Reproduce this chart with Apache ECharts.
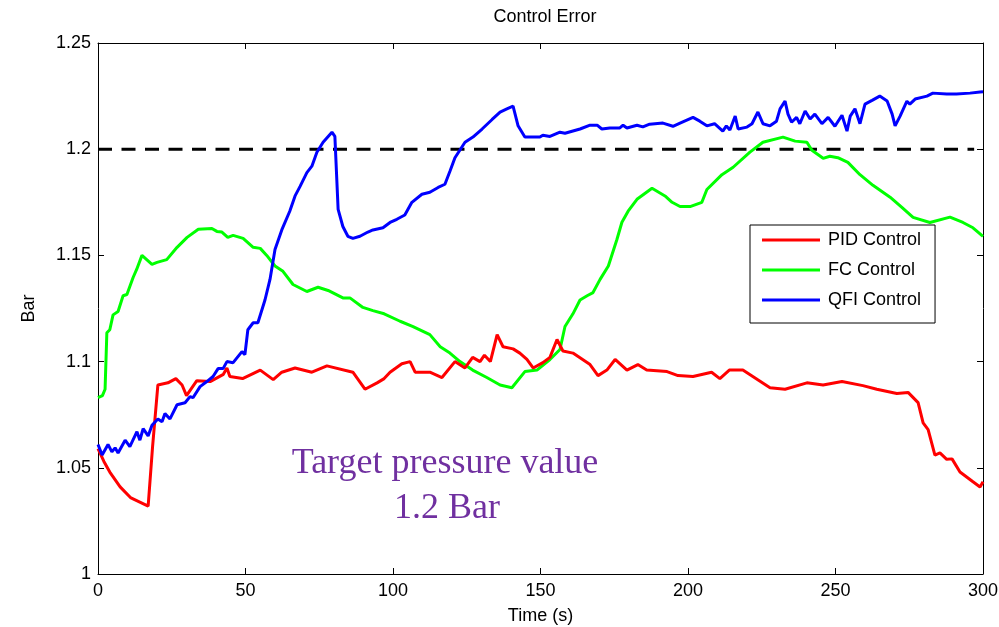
<!DOCTYPE html>
<html>
<head>
<meta charset="utf-8">
<script src="https://cdn.jsdelivr.net/npm/echarts@6/dist/echarts.min.js"></script>
<style>html,body{margin:0;padding:0;background:#fff}#c{width:999px;height:627px}</style>
</head>
<body>
<div id="c"></div>
<script>
// ---- data (time in s, value in Bar) ----
var xTicks = [0, 50, 100, 150, 200, 250, 300];
var yTicks = [1, 1.05, 1.1, 1.15, 1.2, 1.25];
var targetValue = 1.2;
var targetSpan = [0, 297];
var seriesNames = ['PID Control', 'FC Control', 'QFI Control'];

var pidData = [[0,1.059],[2,1.053],[4,1.048],[7.5,1.041],[11,1.036],[14,1.034],[17,1.032],[18.5,1.06],[20.3,1.089],[23.7,1.09],[26.4,1.092],[28.5,1.089],[30,1.084],[33.5,1.091],[38,1.0906],[42.5,1.094],[43.7,1.097],[44.7,1.093],[49,1.092],[55,1.096],[59.4,1.0915],[62.3,1.095],[66.8,1.097],[72.5,1.095],[77.6,1.098],[86.4,1.095],[90.5,1.087],[94.6,1.09],[97,1.092],[99,1.095],[103,1.099],[105.8,1.1],[107.5,1.095],[112.5,1.095],[116.6,1.0925],[121,1.1],[124.4,1.097],[127,1.102],[129.5,1.1],[131,1.103],[133,1.1],[135.3,1.1127],[137.3,1.107],[140.7,1.106],[143,1.104],[145.4,1.101],[147.5,1.097],[150.8,1.0995],[153.2,1.102],[155.6,1.1104],[157.6,1.105],[161,1.104],[166.8,1.0986],[169.5,1.0934],[172.5,1.096],[175.3,1.101],[179.3,1.096],[183,1.0986],[186,1.096],[192.9,1.0953],[196.6,1.0934],[201.7,1.093],[208,1.095],[210.8,1.092],[214,1.096],[218.6,1.096],[227.8,1.0877],[232.9,1.087],[240.3,1.09],[245.8,1.089],[252.2,1.0906],[259.3,1.0887],[264,1.087],[270.8,1.085],[274.6,1.0855],[278,1.0807],[279.7,1.0712],[281.4,1.068],[283.7,1.056],[285.4,1.057],[287.7,1.054],[289.5,1.0542],[292.2,1.048],[296.6,1.0434],[299,1.041],[300,1.0434]];

var fcData = [[0,1.083],[1.5,1.084],[2.4,1.087],[3,1.1136],[4,1.115],[5.1,1.122],[6.8,1.1236],[8.5,1.131],[9.8,1.1316],[11.9,1.1396],[13.1,1.1434],[14.9,1.15],[18.3,1.1458],[20,1.1467],[23.3,1.148],[26.8,1.1538],[30.2,1.1585],[34,1.1623],[38.6,1.1627],[40.3,1.1613],[42,1.161],[44,1.1585],[45.8,1.1594],[49.2,1.158],[52.6,1.1538],[55,1.1533],[57.2,1.15],[60,1.145],[62.7,1.1425],[66.1,1.1363],[70.8,1.133],[74.6,1.135],[78,1.1335],[83,1.13],[85.4,1.13],[89.8,1.1255],[93.2,1.124],[97,1.1225],[102.4,1.119],[106.8,1.1165],[112.5,1.1127],[116,1.107],[119.3,1.104],[122.7,1.1],[127,1.096],[131.8,1.0925],[136.3,1.089],[140.3,1.0877],[144.7,1.0953],[148.8,1.096],[153.2,1.101],[156.6,1.1057],[158.3,1.1165],[161,1.1225],[163.4,1.129],[165.8,1.131],[167.8,1.1325],[170.2,1.1387],[173,1.145],[175.9,1.1575],[177.6,1.1656],[179.7,1.1708],[182.7,1.1764],[187.8,1.1816],[192.2,1.178],[194.6,1.175],[197.3,1.173],[200.7,1.173],[204.7,1.175],[206.4,1.181],[211.5,1.188],[215.3,1.1915],[221,1.1986],[225.4,1.2033],[232.2,1.2057],[236.3,1.2038],[240.3,1.2033],[242,1.1995],[245.8,1.1957],[248.1,1.1967],[250.8,1.196],[254.2,1.1938],[258.3,1.188],[262.7,1.183],[268.5,1.1774],[272.5,1.1726],[276.3,1.1679],[282,1.1655],[288.8,1.168],[293.2,1.1655],[296.6,1.163],[300,1.159]];

var qfiData = [[0,1.061],[1.4,1.056],[3.4,1.061],[4.7,1.0575],[5.8,1.0594],[6.8,1.057],[9.2,1.063],[10.8,1.06],[13.2,1.067],[14.2,1.063],[15.3,1.0684],[17,1.065],[18.3,1.07],[20.3,1.073],[21.7,1.0717],[22.7,1.0755],[24.4,1.073],[26.8,1.0797],[29.5,1.0806],[31.2,1.0835],[32.2,1.083],[34.6,1.0882],[36.9,1.0906],[39,1.093],[40.7,1.0967],[42.4,1.0967],[43.7,1.1],[45.8,1.0995],[48.8,1.1047],[49.8,1.1033],[50.8,1.115],[52.6,1.1183],[54.2,1.1183],[55.6,1.1245],[56.6,1.129],[58.3,1.1387],[60,1.1528],[62.3,1.162],[65,1.1708],[66.8,1.178],[68.5,1.1825],[70.8,1.189],[72.5,1.192],[74.2,1.1986],[76.3,1.2033],[79.3,1.208],[80.3,1.206],[81.4,1.1717],[83,1.1636],[84.7,1.159],[86.4,1.158],[88.8,1.159],[91.5,1.161],[93.2,1.162],[96.6,1.163],[99,1.1655],[101.3,1.167],[104,1.169],[106.4,1.175],[109.8,1.1788],[112.5,1.1797],[115.3,1.182],[117.6,1.1835],[119.3,1.1896],[121,1.196],[124.4,1.2033],[127.1,1.2057],[130.2,1.2095],[133.6,1.214],[136.3,1.2175],[138.6,1.219],[140.7,1.2203],[142.4,1.211],[144.7,1.2057],[149.8,1.2057],[150.8,1.2066],[153.2,1.206],[156.6,1.208],[158.3,1.2075],[163.4,1.2095],[166.8,1.2113],[169.2,1.2113],[170.8,1.2095],[173.5,1.21],[176.9,1.21],[178,1.2113],[179.3,1.21],[182.7,1.2113],[184.7,1.2105],[187,1.2118],[191.5,1.2123],[194.9,1.2108],[197.3,1.2123],[201.7,1.215],[204,1.2132],[206.4,1.211],[209,1.212],[211.8,1.2085],[213,1.211],[214.2,1.209],[216,1.2156],[217,1.2095],[220,1.2104],[221.7,1.212],[223.7,1.2175],[225.4,1.212],[227.8,1.211],[230,1.2132],[231.2,1.219],[232.9,1.2226],[233.9,1.2165],[235.1,1.2127],[236.8,1.215],[237.9,1.212],[239.7,1.218],[241.4,1.2142],[243,1.2165],[245.4,1.212],[247.5,1.215],[249.8,1.2108],[252.2,1.216],[253.9,1.2085],[255,1.2156],[256.6,1.219],[258.3,1.212],[260,1.2212],[262.4,1.223],[265,1.225],[267.5,1.2227],[269.2,1.2165],[270.2,1.211],[271.9,1.2156],[274.2,1.2226],[275.2,1.2212],[277,1.2236],[281,1.225],[283,1.2264],[287.7,1.226],[291,1.226],[295.6,1.2264],[299,1.2269],[300,1.227]];

var targetData = [[targetSpan[0], targetValue], [targetSpan[1], targetValue]];

// ---- chart ----
var FONT = '"Liberation Sans", Arial, Helvetica, sans-serif';
var SERIF = '36px "Liberation Serif", "Times New Roman", serif';
var chart = echarts.init(document.getElementById('c'), null, {renderer: 'canvas'});

var xMin = xTicks[0], xMax = xTicks[xTicks.length - 1], xInt = xTicks[1] - xTicks[0];
var yMin = yTicks[0], yMax = yTicks[yTicks.length - 1], yInt = 0.05;

function baseAxis(extra) {
  var a = {
    type: 'value',
    axisLine: {show: true, onZero: false, lineStyle: {color: '#000', width: 1}},
    axisTick: {show: true, inside: true, length: 6, lineStyle: {color: '#000', width: 1}},
    splitLine: {show: false},
    axisLabel: {show: false}
  };
  for (var k in extra) a[k] = extra[k];
  return a;
}

var option = {
  animation: false,
  backgroundColor: '#fff',
  title: {
    text: 'Control Error',
    left: 540, textAlign: 'center', top: 3,
    textStyle: {fontFamily: FONT, fontSize: 18, fontWeight: 'normal', color: '#000'}
  },
  grid: {left: 98, right: 16, top: 43, bottom: 53, containLabel: false, outerBoundsMode: 'none'},
  legend: {
    data: seriesNames,
    orient: 'vertical',
    left: 750, top: 225,
    icon: 'rect', itemWidth: 58, itemHeight: 3, itemGap: 12,
    padding: [6, 14, 14, 12],
    borderColor: '#000', borderWidth: 1, backgroundColor: '#fff',
    textStyle: {fontFamily: FONT, fontSize: 18, color: '#000', padding: [0, 0, 0, 3]}
  },
  xAxis: [
    baseAxis({
      position: 'bottom', min: xMin, max: xMax, interval: xInt,
      name: 'Time (s)', nameLocation: 'middle', nameGap: 33,
      nameTextStyle: {fontFamily: FONT, fontSize: 18, color: '#000'},
      axisLabel: {show: true, margin: 8, fontFamily: FONT, fontSize: 18, color: '#000'}
    }),
    baseAxis({position: 'top', min: xMin, max: xMax, interval: xInt})
  ],
  yAxis: [
    baseAxis({
      position: 'left', min: yMin, max: yMax, interval: yInt,
      name: 'Bar', nameLocation: 'middle', nameGap: 60,
      nameTextStyle: {fontFamily: FONT, fontSize: 18, color: '#000'},
      axisLabel: {show: true, margin: 7, fontFamily: FONT, fontSize: 18, color: '#000',
        formatter: function (v) { return String(Math.round(v * 100) / 100); }}
    }),
    baseAxis({position: 'right', min: yMin, max: yMax, interval: yInt})
  ],
  series: [
    {name: seriesNames[0], type: 'line', data: pidData, showSymbol: false, symbol: 'none',
     color: '#ff0000', lineStyle: {color: '#ff0000', width: 3}, z: 3},
    {name: seriesNames[1], type: 'line', data: fcData, showSymbol: false, symbol: 'none',
     color: '#00ff00', lineStyle: {color: '#00ff00', width: 3}, z: 2},
    {name: seriesNames[2], type: 'line', data: qfiData, showSymbol: false, symbol: 'none',
     color: '#0000ff', lineStyle: {color: '#0000ff', width: 3}, z: 4},
    {name: 'Target', type: 'line', data: targetData, showSymbol: false, symbol: 'none',
     color: '#000', lineStyle: {color: '#000', width: 3, type: [14, 9.5]}, z: 1}
  ],
  graphic: [
    {type: 'text', x: 445, y: 464, style: {
      text: 'Target pressure value', textAlign: 'center', textVerticalAlign: 'middle',
      font: SERIF, fill: '#7030a0'}},
    {type: 'text', x: 447, y: 509, style: {
      text: '1.2 Bar', textAlign: 'center', textVerticalAlign: 'middle',
      font: SERIF, fill: '#7030a0'}}
  ]
};
chart.setOption(option);
</script>
</body>
</html>
